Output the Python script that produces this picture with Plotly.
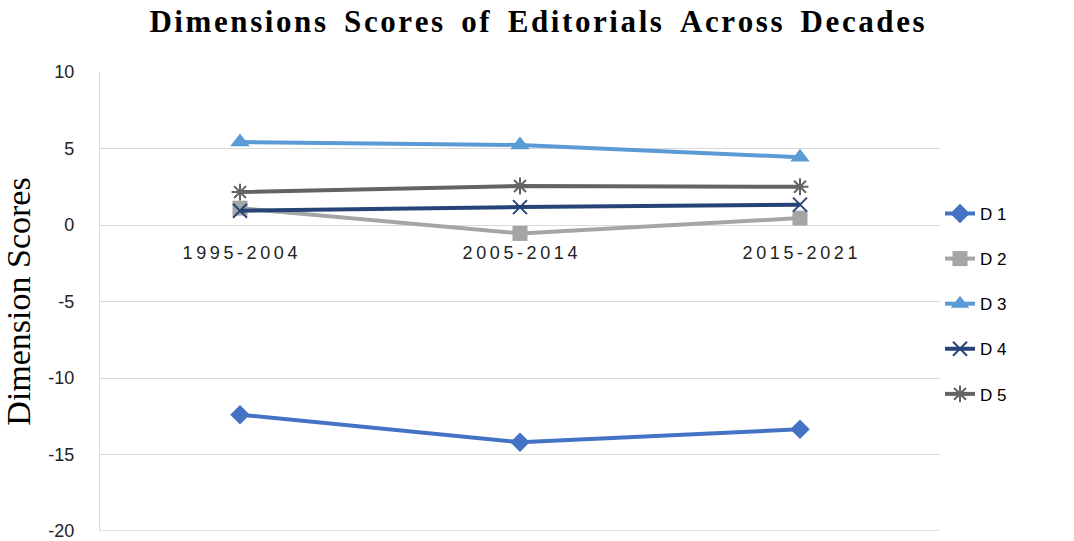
import plotly.graph_objects as go

categories = ["1995-2004", "2005-2014", "2015-2021"]
series_names = ["D 1", "D 2", "D 3", "D 4", "D 5"]
d1 = [-12.4, -14.2, -13.35]
d2 = [1.1, -0.55, 0.45]
d3 = [5.42, 5.23, 4.43]
d4 = [0.93, 1.17, 1.33]
d5 = [2.15, 2.55, 2.5]
y_ticks = [10, 5, 0, -5, -10, -15, -20]

values = [d1, d2, d3, d4, d5]
colors = ["#4472C4", "#A5A5A5", "#5B9BD5", "#264478", "#636363"]
symbols = ["diamond", "square", "triangle-up", "x-thin-open", "asterisk-open"]
sizes = [15, 15, 17, 14, 14]

THIN = "\u2009"
HAIR = "\u200a"
NBSP = "\u00a0"
def spaced(s, sep=THIN):
    return sep.join(list(s))

fig = go.Figure()
for i, (name, vals) in enumerate(zip(series_names, values)):
    open_sym = symbols[i].endswith("open")
    fig.add_trace(go.Scatter(
        x=[0, 1, 2], y=vals, name=name, mode="lines+markers",
        legendgroup=name,
        line=dict(color=colors[i], width=4),
        marker=dict(symbol=symbols[i], size=sizes[i], color=colors[i],
                    line=dict(color=colors[i], width=2 if open_sym else 0)),
    ))

title_text = (HAIR + HAIR + NBSP + HAIR + HAIR).join(
    spaced(w, HAIR) for w in "Dimensions Scores of Editorials Across Decades".split(" "))

# bottom gridline at the range edge
fig.add_shape(type="line", xref="paper", yref="y", x0=0, x1=1, y0=y_ticks[-1], y1=y_ticks[-1],
              line=dict(color="#D9D9D9", width=1.3), layer="below")

fig.update_layout(
    width=1074, height=541,
    margin=dict(l=100, r=134, t=72, b=10),
    paper_bgcolor="white", plot_bgcolor="white",
    title=dict(text="<b>" + title_text + "</b>", x=0.5, xref="container",
               y=0.96, yref="container", yanchor="middle",
               font=dict(family="Liberation Serif", size=31, color="black")),
    xaxis=dict(range=[-0.5, 2.5], tickvals=[0, 1, 2],
               ticktext=[spaced(c, THIN) for c in categories],
               anchor="free", position=(0 - (-20)) / 30, automargin=False,
               showgrid=False, zeroline=False, showline=False, ticks="",
               ticklabelstandoff=15,
               tickfont=dict(family="Liberation Sans", size=18, color="#222")),
    yaxis=dict(range=[-20, 10], tickvals=y_ticks, ticktext=[str(v) for v in y_ticks],
               showgrid=True, gridcolor="#D9D9D9", gridwidth=1.3, automargin=False,
               zeroline=False, showline=True, linecolor="#D9D9D9", linewidth=1.3,
               ticks="", ticklabelstandoff=21, ticklabeloverflow="allow",
               tickfont=dict(family="Liberation Sans", size=18, color="#222"),
               title=dict(text="Dimension Scores", standoff=10,
                          font=dict(family="Liberation Serif", size=34, color="black"))),
    legend=dict(x=1.0, xanchor="left", y=0.73, yanchor="top",
                font=dict(family="Liberation Sans", size=17, color="black"),
                tracegroupgap=20, bgcolor="rgba(0,0,0,0)"),
    showlegend=True,
)

fig.write_html("out.html")
